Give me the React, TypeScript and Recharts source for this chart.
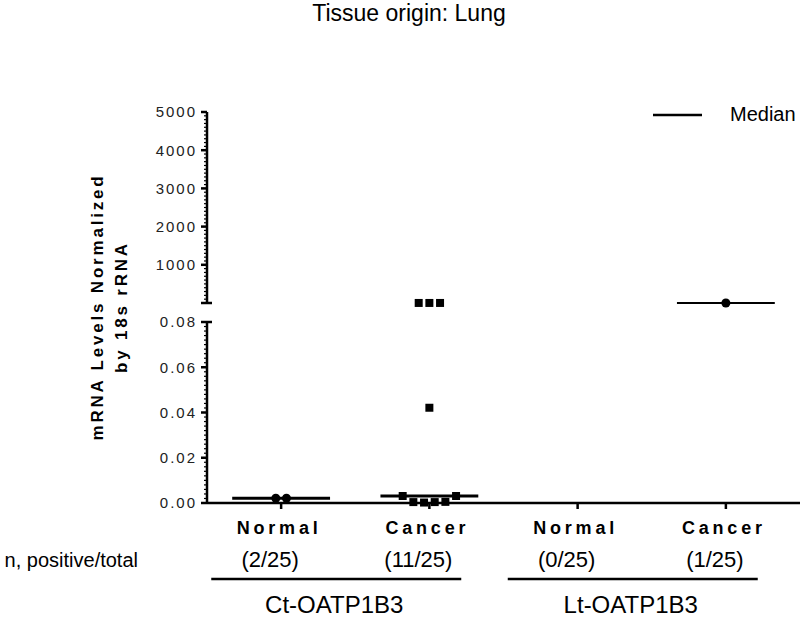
import React from 'react';
import { ScatterChart, Scatter, XAxis, YAxis, ZAxis, ReferenceLine, Legend } from 'recharts';

// ---- data ----
const categories = ['Normal', 'Cancer', 'Normal', 'Cancer'];
const positiveCounts = ['(2/25)', '(11/25)', '(0/25)', '(1/25)'];
const groups = ['Ct-OATP1B3', 'Lt-OATP1B3'];
const rowLabel = 'n, positive/total';

const ctNormal = [0.0021, 0.0021];
const ctCancer = [0.0031, 0.0004, 0.0002, 0.0004, 0.0005, 0.0031, 0.0421, 1.2, 1.2, 1.2];
const ltNormal: number[] = [];
const ltCancer = [1.1];
const valuesByCategory = [ctNormal, ctCancer, ltNormal, ltCancer];

const topLabels = [1000, 2000, 3000, 4000, 5000];
const bottomLabels = [0, 0.02, 0.04, 0.06, 0.08];
const BREAK = 0.08; // values above this sit on the upper segment

// ---- styles / layout ----
const W = 800;
const H = 617;
const FONT = '"Liberation Sans", Arial, Helvetica, sans-serif';
const PLOT_LEFT = 207;
const Y_AXIS_W = 60;
const TOP_Y0 = 112;
const TOP_Y1 = 303;
const BOT_Y0 = 322;
const BOT_Y1 = 503;
const X_AXIS_H = 30;
const CAT_W = (W - PLOT_LEFT) / categories.length;
const shapes = ['circle', 'square', 'circle', 'circle'] as const;
const STEP = 0.072; // horizontal spread between neighbouring points (category units)

const topTicks = Array.from({ length: 51 }, (_, i) => i * 100);
const bottomTicks = Array.from({ length: 41 }, (_, i) => Math.round(i * 2) / 1000);

const median = (vals: number[]) => {
  if (!vals.length) return null;
  const s = [...vals].sort((a, b) => a - b);
  const m = Math.floor(s.length / 2);
  return s.length % 2 ? s[m] : (s[m - 1] + s[m]) / 2;
};

// spread points that would overlap into a row, like a Prism column scatter
const spreadPoints = (vals: number[], ci: number) => {
  const rows = new Map<string, number[]>();
  vals.forEach((v, i) => {
    const key = v > BREAK ? 't' + Math.floor(v / 100) : 'b' + Math.floor(v / 0.006);
    if (!rows.has(key)) rows.set(key, []);
    rows.get(key)!.push(i);
  });
  const pts: { x: number; y: number }[] = [];
  rows.forEach((idx) => {
    idx.forEach((i, k) => {
      pts.push({ x: ci + 0.5 + (k - (idx.length - 1) / 2) * STEP, y: vals[i] });
    });
  });
  return pts;
};

const points = valuesByCategory.map((v, ci) => spreadPoints(v, ci));
const medians = valuesByCategory.map(median);

const YTick = (props: any) => {
  const { x, y, payload, labels, cap, fmt } = props;
  const v = payload.value;
  const isMajor = labels.some((t: number) => Math.abs(t - v) < 1e-9);
  const isCap = Math.abs(v - cap) < 1e-9;
  const label = (
    <text x={x - 10} y={y} dy="0.36em" textAnchor="end" fontSize={15} letterSpacing={2} fill="#222" fontFamily={FONT}>
      {fmt(v)}
    </text>
  );
  if (isCap) {
    return (
      <g>
        <line x1={x - 6} x2={x + 5} y1={y} y2={y} stroke="#000" strokeWidth={2.5} />
        {isMajor && label}
      </g>
    );
  }
  if (isMajor) {
    return (
      <g>
        <line x1={x - 6} x2={x} y1={y} y2={y} stroke="#000" strokeWidth={2.5} />
        {label}
      </g>
    );
  }
  return <line x1={x - 3} x2={x} y1={y} y2={y} stroke="#000" strokeWidth={1.2} />;
};

const XTick = (props: any) => {
  const { x, y, payload } = props;
  const i = Math.floor(payload.value);
  const gx = x + CAT_W / 2 - 19;
  return (
    <g fontFamily={FONT} fill="#000">
      <text x={x - 2} y={y + 25} textAnchor="middle" fontSize={18} fontWeight="bold" letterSpacing={3.8}>
        {categories[i]}
      </text>
      <text x={x - 11} y={y + 58} textAnchor="middle" fontSize={22}>
        {positiveCounts[i]}
      </text>
      {i % 2 === 0 && (
        <g>
          <line x1={gx - 125} x2={gx + 125} y1={y + 70} y2={y + 70} stroke="#000" strokeWidth={2.5} />
          <text x={gx - 2} y={y + 104} textAnchor="middle" fontSize={24}>
            {groups[i / 2]}
          </text>
        </g>
      )}
    </g>
  );
};

const MedianLegend = () => (
  <div style={{ display: 'flex', alignItems: 'center', fontSize: 20, fontFamily: FONT, color: '#000' }}>
    <svg width={52} height={6}>
      <line x1={2} x2={51} y1={3} y2={3} stroke="#000" strokeWidth={2.5} />
    </svg>
    <span style={{ marginLeft: 27 }}>Median</span>
  </div>
);

const axisLine = { stroke: '#000', strokeWidth: 2.5 };

export default function App() {
  return (
    <div style={{ position: 'absolute', left: 0, top: 0, width: W, height: H, background: '#fff', fontFamily: FONT }}>
      {/* upper segment: 0 - 5000 */}
      <div style={{ position: 'absolute', left: 0, top: 0 }}>
        <ScatterChart
          width={W}
          height={H}
          margin={{ top: TOP_Y0, right: 0, bottom: H - TOP_Y1, left: PLOT_LEFT - Y_AXIS_W }}
        >
          <XAxis type="number" dataKey="x" domain={[0, categories.length]} hide />
          <YAxis
            type="number"
            dataKey="y"
            domain={[0, 5000]}
            ticks={topTicks}
            interval={0}
            width={Y_AXIS_W}
            tickSize={0}
            tickMargin={0}
            tickLine={false}
            axisLine={axisLine}
            tick={(p: any) => <YTick {...p} labels={topLabels} cap={0} fmt={(v: number) => String(v)} />}
          />
          <ZAxis range={[56, 56]} />
          <Legend
            layout="horizontal"
            verticalAlign="middle"
            align="center"
            wrapperStyle={{ top: 103, left: 651, right: 'auto', bottom: 'auto', width: 149 }}
            content={() => <MedianLegend />}
          />
          {medians.map((m, ci) =>
            m !== null && m > BREAK ? (
              <ReferenceLine
                key={'tm' + ci}
                segment={[
                  { x: ci + 0.17, y: m },
                  { x: ci + 0.83, y: m },
                ]}
                stroke="#000"
                strokeWidth={2}
              />
            ) : null
          )}
          {points.map((pts, ci) => {
            const d = pts.filter((p) => p.y > BREAK);
            return d.length ? (
              <Scatter key={'t' + ci} data={d} shape={shapes[ci]} fill="#000" isAnimationActive={false} />
            ) : null;
          })}
        </ScatterChart>
      </div>

      {/* lower segment: 0 - 0.08 */}
      <div style={{ position: 'absolute', left: 0, top: 0 }}>
        <ScatterChart
          width={W}
          height={H}
          margin={{ top: BOT_Y0, right: 0, bottom: H - BOT_Y1 - X_AXIS_H, left: PLOT_LEFT - Y_AXIS_W }}
        >
          <XAxis
            type="number"
            dataKey="x"
            domain={[0, categories.length]}
            ticks={categories.map((_, i) => i + 0.5)}
            interval={0}
            height={X_AXIS_H}
            tickSize={6}
            tickMargin={0}
            axisLine={axisLine}
            tickLine={{ stroke: '#000', strokeWidth: 2.5 }}
            tick={(p: any) => <XTick {...p} />}
          />
          <YAxis
            type="number"
            dataKey="y"
            domain={[0, BREAK]}
            ticks={bottomTicks}
            interval={0}
            width={Y_AXIS_W}
            tickSize={0}
            tickMargin={0}
            tickLine={false}
            axisLine={axisLine}
            tick={(p: any) => <YTick {...p} labels={bottomLabels} cap={BREAK} fmt={(v: number) => v.toFixed(2)} />}
          />
          <ZAxis range={[56, 56]} />
          {medians.map((m, ci) =>
            m !== null && m <= BREAK ? (
              <ReferenceLine
                key={'bm' + ci}
                segment={[
                  { x: ci + 0.17, y: m },
                  { x: ci + 0.83, y: m },
                ]}
                stroke="#000"
                strokeWidth={3}
              />
            ) : null
          )}
          {points.map((pts, ci) => {
            const d = pts.filter((p) => p.y <= BREAK);
            return d.length ? (
              <Scatter key={'b' + ci} data={d} shape={shapes[ci]} fill="#000" isAnimationActive={false} />
            ) : null;
          })}
        </ScatterChart>
      </div>

      {/* titles */}
      <svg width={W} height={H} style={{ position: 'absolute', left: 0, top: 0, pointerEvents: 'none' }} fontFamily={FONT}>
        <text x={409} y={21} textAnchor="middle" fontSize={23} fill="#000">
          Tissue origin: Lung
        </text>
        <g fontSize={17} fontWeight="bold" letterSpacing={2.8} fill="#000" textAnchor="middle">
          <text x={103} y={307} transform="rotate(-90 103 307)">
            mRNA Levels Normalized
          </text>
          <text x={127} y={307} transform="rotate(-90 127 307)">
            by 18s rRNA
          </text>
        </g>
        <text x={138} y={567} textAnchor="end" fontSize={20} fill="#000">
          {rowLabel}
        </text>
      </svg>
    </div>
  );
}
